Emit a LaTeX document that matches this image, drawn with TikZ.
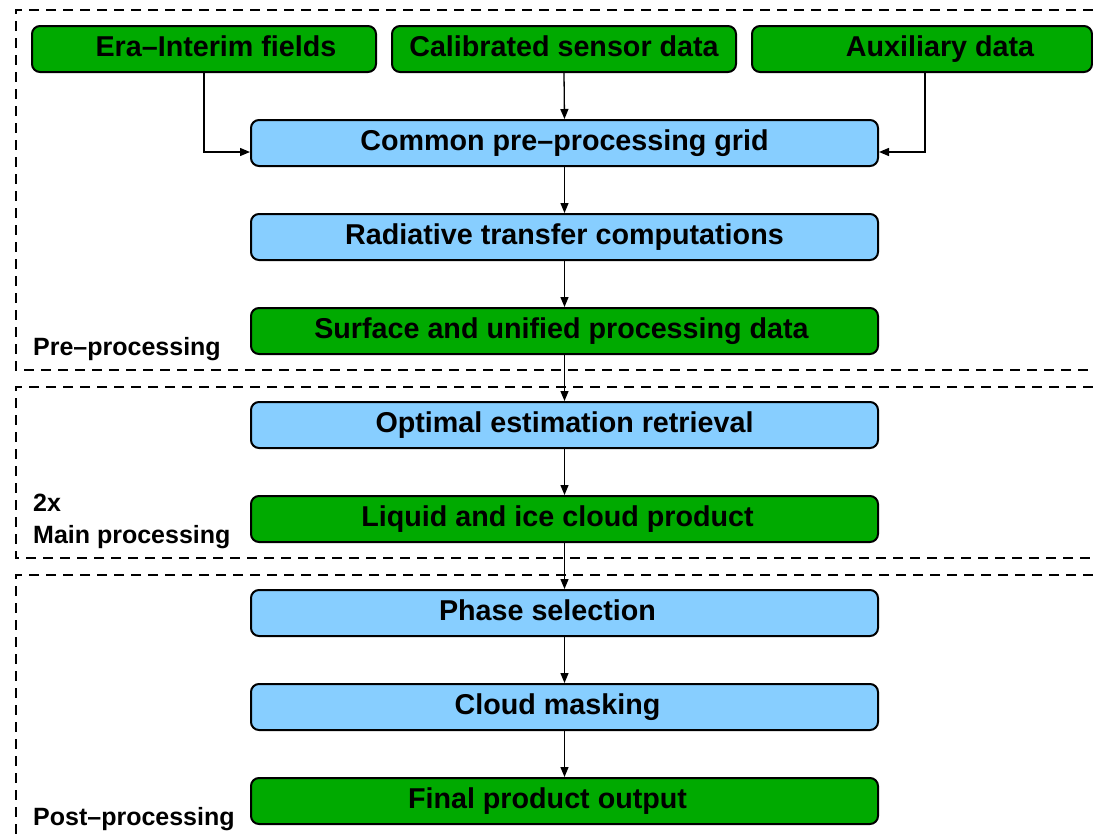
\documentclass[tikz,border=0pt]{standalone}
\usepackage{fontspec}
\setmainfont{Liberation Sans}
\usetikzlibrary{arrows.meta}
\definecolor{boxgreen}{RGB}{0,170,0}
\definecolor{boxblue}{RGB}{135,206,255}
\newcommand{\shifttext}[2]{\hspace*{#1}#2}
\tikzset{
  stepbox/.style={draw=black, line width=2pt, rounded corners=8pt, minimum height=46pt, inner sep=0pt,
    text height=20.5pt, text depth=5.5pt, font=\fontsize{28.7}{30}\selectfont\bfseries},
  gbox/.style={stepbox, fill=boxgreen},
  bbox/.style={stepbox, fill=boxblue, minimum width=627pt},
  conn/.style={line width=1.3pt, -{Triangle[length=10pt,width=8pt]}},
  frame/.style={dash pattern=on 10pt off 7pt, line width=1.4pt},
  lab/.style={anchor=base west, inner sep=0pt, font=\fontsize{25}{27}\selectfont\bfseries}
}
\begin{document}
\begin{tikzpicture}[x=1pt,y=-1pt]
\useasboundingbox (0,0) rectangle (1093,839);
% frames
\draw[frame] (1093,10) -- (16,10) -- (16,370) -- (1093,370);
\draw[frame] (1093,387) -- (16,387) -- (16,558) -- (1093,558);
\draw[frame] (1093,575) -- (16,575) -- (16,839);
% labels
\node[lab] (lpre) at (33,355) {Pre–processing};
\node[lab] (l2x) at (33,511) {2x};
\node[lab] (lmain) at (33,543) {Main processing};
\node[lab] (lpost) at (33,825) {Post–processing};
% top row
\node[gbox, minimum width=344pt] (era) at (204,49) {\shifttext{24pt}{Era–Interim fields}};
\node[gbox, minimum width=344pt] (cal) at (564,49) {Calibrated sensor data};
\node[gbox, minimum width=340pt] (aux) at (922,49) {\shifttext{36pt}{Auxiliary data}};
% column
\node[bbox] (grid) at (564.5,143) {Common pre–processing grid};
\node[bbox] (rad) at (564.5,237) {Radiative transfer computations};
\node[bbox, fill=boxgreen] (surf) at (564.5,331) {\shifttext{-6pt}{Surface and unified processing data}};
\node[bbox] (oe) at (564.5,425) {Optimal estimation retrieval};
\node[bbox, fill=boxgreen] (liq) at (564.5,519) {\shifttext{-14pt}{Liquid and ice cloud product}};
\node[bbox] (phase) at (564.5,613) {\shifttext{-34pt}{Phase selection}};
\node[bbox] (mask) at (564.5,707) {\shifttext{-14pt}{Cloud masking}};
\node[bbox, fill=boxgreen] (final) at (564.5,801) {\shifttext{-34pt}{Final product output}};
% connectors
\coordinate (gl) at ([yshift=-9pt]grid.west);
\coordinate (gr) at ([yshift=-9pt]grid.east);
\draw[conn] (era.south) |- (gl);
\draw[conn] ([xshift=3pt]aux.south) |- (gr);
\draw[conn] (cal.south) -- (grid.north);
\draw[conn] (grid.south) -- (rad.north);
\draw[conn] (rad.south) -- (surf.north);
\draw[conn] (surf.south) -- (oe.north);
\draw[conn] (oe.south) -- (liq.north);
\draw[conn] (liq.south) -- (phase.north);
\draw[conn] (phase.south) -- (mask.north);
\draw[conn] (mask.south) -- (final.north);
\end{tikzpicture}
\end{document}
